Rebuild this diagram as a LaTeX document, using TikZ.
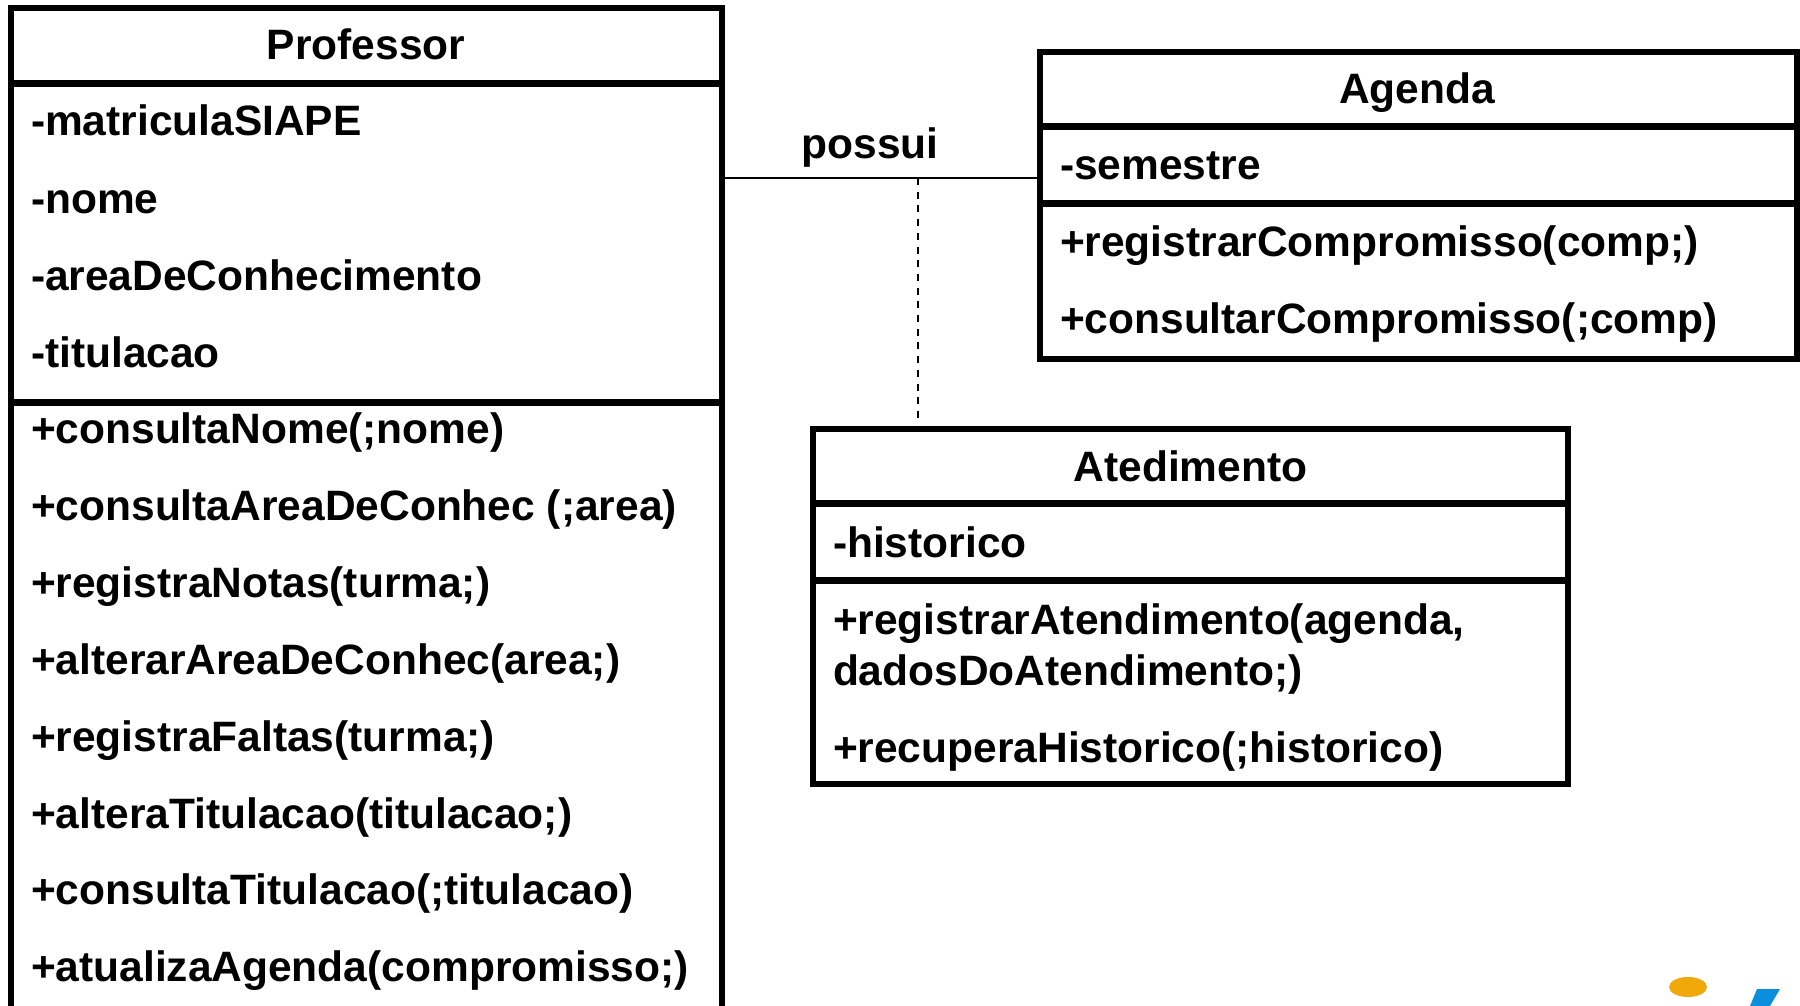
\documentclass[tikz,border=0pt]{standalone}
\usepackage{fontspec}
\setmainfont{Liberation Sans}[BoldFont={Liberation Sans Bold}]
\definecolor{logoorange}{HTML}{F0A80A}
\definecolor{logoblue}{HTML}{0A8FDC}
\tikzset{
  classbox/.style={draw=black,line width=6.5pt,rectangle,inner sep=0pt,outer sep=0pt,fill=white,anchor=north west},
  divider/.style={line width=7pt,line cap=butt},
  txt/.style={inner sep=0pt,outer sep=0pt,anchor=base west,font=\fontsize{42.5}{50}\selectfont\bfseries},
  title/.style={txt,anchor=base},
  assoc/.style={line width=2pt},
  dep/.style={line width=2pt,dash pattern=on 7pt off 6.7pt},
}
\begin{document}
\begin{tikzpicture}[x=1pt,y=-1pt]
\useasboundingbox (0,0) rectangle (1800,1006);
\fill[white] (0,0) rectangle (1800,1006);
\clip (0,0) rectangle (1800,1006);
% boxes
\node[classbox,minimum width=711pt,minimum height=1040pt] (prof) at (11,8) {};
\node[classbox,minimum width=757pt,minimum height=307pt] (agenda) at (1040,52) {};
\node[classbox,minimum width=755pt,minimum height=355pt] (aten) at (813,429) {};
% dividers
\coordinate (p1) at (11,84);
\coordinate (p2) at (11,402);
\draw[divider] (p1) -- (p1 -| prof.east);
\draw[divider] (p2) -- (p2 -| prof.east);
\coordinate (a1) at (1040,127);
\coordinate (a2) at (1040,203);
\draw[divider] (a1) -- (a1 -| agenda.east);
\draw[divider] (a2) -- (a2 -| agenda.east);
\coordinate (t1) at (813,503);
\coordinate (t2) at (813,580);
\draw[divider] (t1) -- (t1 -| aten.east);
\draw[divider] (t2) -- (t2 -| aten.east);
% connectors
\coordinate (jun) at (918,178);
\coordinate (depend) at (918,419);
\draw[assoc] (prof.east |- jun) -- (agenda.west |- jun);
\draw[dep] (jun) -- (depend);
\node[title] (lblpossui) at (870,159) {possui};
% Professor
\node[title] (ptitle) at (366,60) {Professor};
\node[txt] (pa1) at (31,136) {-matriculaSIAPE};
\node[txt] (pa2) at (31,213) {-nome};
\node[txt] (pa3) at (31,290) {-areaDeConhecimento};
\node[txt] (pa4) at (31,367) {-titulacao};
\node[txt] (po1) at (31,443) {+consultaNome(;nome)};
\node[txt] (po2) at (31,520) {+consultaAreaDeConhec (;area)};
\node[txt] (po3) at (31,597) {+registraNotas(turma;)};
\node[txt] (po4) at (31,674) {+alterarAreaDeConhec(area;)};
\node[txt] (po5) at (31,751) {+registraFaltas(turma;)};
\node[txt] (po6) at (31,828) {+alteraTitulacao(titulacao;)};
\node[txt] (po7) at (31,904) {+consultaTitulacao(;titulacao)};
\node[txt] (po8) at (31,981) {+atualizaAgenda(compromisso;)};
% Agenda
\node[title] (atitle) at (1417,104) {Agenda};
\node[txt] (aa1) at (1060,179) {-semestre};
\node[txt] (ao1) at (1060,256) {+registrarCompromisso(comp;)};
\node[txt] (ao2) at (1060,333) {+consultarCompromisso(;comp)};
% Atedimento
\node[title] (ttitle) at (1190.5,481) {Atedimento};
\node[txt] (ta1) at (833,557) {-historico};
\node[txt] (to1) at (833,634) {+registrarAtendimento(agenda,};
\node[txt] (to1b) at (833,685) {dadosDoAtendimento;)};
\node[txt] (to2) at (833,762) {+recuperaHistorico(;historico)};
% logo fragment
\fill[logoorange] (1688,987) ellipse [x radius=19,y radius=10];
\fill[logoblue] (1757,989) -- (1780,989) -- (1770,1006) -- (1750,1006) -- cycle;
\end{tikzpicture}
\end{document}
